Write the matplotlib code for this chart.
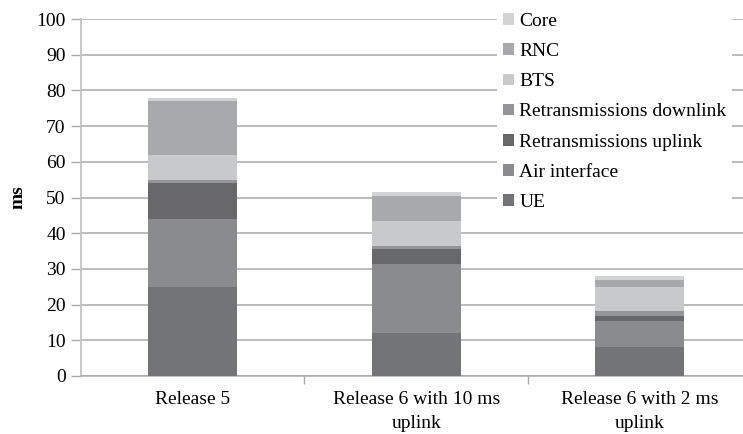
import matplotlib.pyplot as plt
import numpy as np

plt.rcParams['font.family'] = ['Liberation Serif', 'DejaVu Serif']

releases = ["Release 5", "Release 6 with 10 ms\nuplink", "Release 6 with 2 ms\nuplink"]

# latency components per release, bottom to top (ms)
ue = [25, 12, 8]
air_interface = [19, 19.5, 7.5]
retx_uplink = [10, 4, 1.4]
retx_downlink = [1, 1, 1.4]
bts = [7, 7, 6.5]
rnc = [15, 7, 2]
core = [1, 1, 1.1]

components = [
    ("UE", ue, "#737478"),
    ("Air interface", air_interface, "#8a8b8e"),
    ("Retransmissions uplink", retx_uplink, "#68686a"),
    ("Retransmissions downlink", retx_downlink, "#949598"),
    ("BTS", bts, "#c8c9cb"),
    ("RNC", rnc, "#a8a9ac"),
    ("Core", core, "#d2d3d5"),
]

fig = plt.figure(figsize=(7.43, 4.34), dpi=100)
ax = fig.add_axes([81 / 743, 58 / 434, 670.5 / 743, 357 / 434])

x = np.arange(len(releases))
bottom = np.zeros(len(releases))
handles = []
for name, vals, col in components:
    b = ax.bar(x, vals, width=0.40, bottom=bottom, color=col, label=name, zorder=3)
    handles.append(b)
    bottom += np.array(vals)

ax.set_xlim(-0.5, 2.5)
ax.set_ylim(0, 100)
ax.set_yticks(range(0, 101, 10))
ax.yaxis.grid(True, color="#ababab", linewidth=1.1, zorder=0)
ax.set_axisbelow(True)

ax.set_xticks(x)
ax.set_xticklabels(releases, fontsize=14, linespacing=1.55)
ax.set_xticks([0.5, 1.5], minor=True)
ax.tick_params(axis="x", which="major", length=0, pad=11)
ax.tick_params(axis="x", which="minor", length=6, color="#aaaaaa", width=1)
ax.tick_params(axis="y", length=7, color="#aaaaaa", width=1, labelsize=14, pad=4)

for s in ["top", "right"]:
    ax.spines[s].set_visible(False)
ax.spines["left"].set_color("#c4c4c4")
ax.spines["left"].set_linewidth(1.3)
ax.spines["bottom"].set_color("#aaaaaa")
ax.spines["bottom"].set_linewidth(1.1)

ax.set_ylabel("ms", fontsize=14, fontweight="bold", labelpad=7)

leg = ax.legend(handles[::-1], [c[0] for c in components][::-1],
                loc="upper left", bbox_to_anchor=(497 / 743, 1 - 7 / 434),
                bbox_transform=fig.transFigure, fontsize=14,
                frameon=True, facecolor="white", edgecolor="none", framealpha=1,
                handlelength=0.55, handleheight=0.55, handletextpad=0.3,
                labelspacing=0.68, borderpad=0.3, borderaxespad=0)
leg.set_zorder(5)

fig.savefig("out.png", dpi=100)
